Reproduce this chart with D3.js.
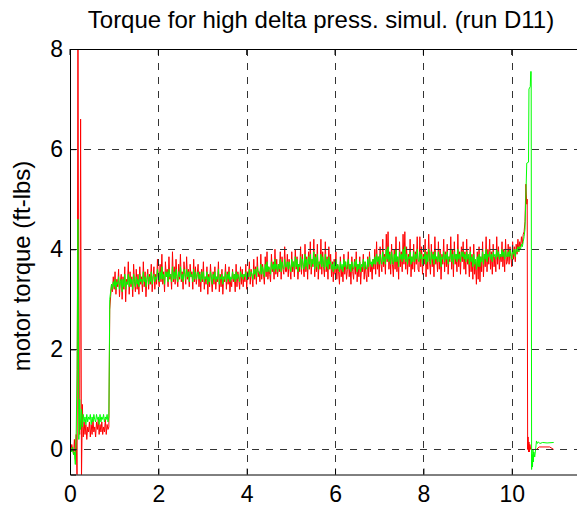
<!DOCTYPE html>
<html>
<head>
<meta charset="utf-8">
<script src="https://cdn.jsdelivr.net/npm/d3@7"></script>
<style>
  body { margin: 0; background: #fff; }
  svg { display: block; font-family: "Liberation Sans", Arial, sans-serif; }
</style>
</head>
<body>
<div id="chart"></div>
<script>
// sampling grids (seconds)
const startStep = 0.02;
const midStart = 0.9, midStep = 0.02;

// start-up, t = 0 .. 0.88
const startRed = [0.05, -0.05, 0.10, 0.00, -0.10, 0.20, -0.20, 0.30, -0.60, 8.60,
  0.80, 0.30, 6.60, -0.60, 0.90, 0.25, 0.55, 0.30, 0.50, 0.20,
  0.45, 0.35, 0.55, 0.25, 0.50, 0.30, 0.60, 0.35, 0.45, 0.25,
  0.55, 0.40, 0.60, 0.30, 0.50, 0.35, 0.55, 0.30, 0.45, 0.35,
  0.60, 0.30, 0.50, 0.40, 0.45];
const startGreen = [0.00, 0.03, -0.05, 0.05, -0.10, -0.05, -0.30, 0.30, 1.60, 4.60,
  0.20, 1.00, 0.40, 0.80, 0.45, 0.70, 0.55, 0.65, 0.50, 0.70,
  0.55, 0.65, 0.60, 0.70, 0.50, 0.65, 0.55, 0.70, 0.60, 0.55,
  0.70, 0.60, 0.65, 0.50, 0.70, 0.55, 0.65, 0.60, 0.70, 0.55,
  0.65, 0.60, 0.70, 0.55, 0.65];

// running part, t = 0.90 .. 10.28 (one row per second)
const midRed = [
  2.80, 3.05, 3.30, 3.15, 3.45, 3.20, 3.55, 3.10, 3.40, 3.25, 3.60, 3.05, 3.35, 3.50, 3.00, 3.45, 3.20, 3.65, 2.95, 3.40, 3.30, 3.75, 3.10, 3.55, 3.25, 3.45, 3.05, 3.70, 3.35, 3.15, 3.60, 3.20, 3.50, 3.10, 3.65, 3.30, 3.45, 3.15, 3.75, 3.25, 3.55, 3.05, 3.40, 3.60, 3.20, 3.50, 3.30, 3.70, 3.15, 3.45,
  3.65, 3.20, 3.50, 3.30, 3.80, 3.40, 3.25, 3.70, 3.35, 3.90, 3.30, 3.55, 3.15, 3.75, 3.45, 3.60, 3.25, 3.85, 3.40, 3.50, 3.20, 3.95, 3.35, 3.65, 3.30, 3.80, 3.45, 3.25, 3.70, 3.40, 3.90, 3.35, 3.55, 3.20, 3.75, 3.50, 3.30, 3.85, 3.40, 3.60, 3.25, 3.70, 3.45, 3.55, 3.20, 3.80, 3.35, 3.65, 3.30, 3.50,
  3.70, 3.25, 3.55, 3.15, 3.60, 3.35, 3.75, 3.20, 3.45, 3.30, 3.65, 3.10, 3.50, 3.25, 3.70, 3.40, 3.15, 3.55, 3.30, 3.65, 3.20, 3.45, 3.35, 3.75, 3.15, 3.50, 3.25, 3.60, 3.10, 3.45, 3.35, 3.70, 3.20, 3.55, 3.30, 3.65, 3.15, 3.40, 3.25, 3.60, 3.35, 3.50, 3.15, 3.70, 3.25, 3.55, 3.40, 3.20, 3.65, 3.30,
  3.60, 3.25, 3.50, 3.35, 3.70, 3.20, 3.55, 3.40, 3.75, 3.30, 3.60, 3.45, 3.25, 3.80, 3.40, 3.65, 3.30, 3.85, 3.45, 3.55, 3.35, 3.90, 3.40, 3.70, 3.50, 3.30, 3.85, 3.45, 3.95, 3.40, 3.65, 3.50, 3.35, 3.90, 3.55, 3.75, 3.40, 4.00, 3.50, 3.80, 3.45, 3.70, 3.55, 3.95, 3.40, 3.85, 3.60, 3.50, 4.05, 3.55,
  3.55, 3.90, 3.45, 3.80, 3.60, 3.40, 3.95, 3.55, 3.75, 3.45, 4.00, 3.60, 3.85, 3.40, 3.70, 3.55, 4.05, 3.50, 3.90, 3.65, 3.45, 4.10, 3.55, 3.85, 3.40, 3.95, 3.60, 4.15, 3.50, 3.80, 3.65, 4.20, 3.45, 3.90, 3.55, 4.10, 3.40, 3.75, 3.60, 4.20, 3.50, 3.95, 3.65, 3.45, 4.15, 3.55, 3.85, 3.40, 4.05, 3.60,
  3.90, 3.45, 3.75, 3.35, 3.80, 3.50, 3.95, 3.40, 3.70, 3.55, 3.30, 3.85, 3.45, 3.65, 3.35, 3.90, 3.50, 3.75, 3.40, 3.60, 3.95, 3.45, 3.70, 3.30, 3.85, 3.55, 3.40, 3.80, 3.50, 3.95, 3.35, 3.70, 3.45, 3.85, 3.30, 3.65, 3.55, 3.90, 3.40, 3.75, 3.50, 3.35, 3.85, 3.45, 3.95, 3.55, 3.70, 3.40, 3.80, 3.60,
  4.00, 3.50, 4.15, 3.60, 3.85, 3.45, 4.05, 3.70, 3.55, 4.20, 3.65, 3.90, 3.50, 4.30, 3.75, 4.35, 3.60, 3.95, 3.50, 4.10, 3.70, 3.45, 4.00, 3.60, 4.25, 3.55, 3.85, 3.40, 4.15, 3.65, 3.95, 3.55, 4.30, 3.70, 4.35, 3.60, 4.05, 3.50, 3.90, 3.65, 4.20, 3.45, 3.85, 3.60, 4.10, 3.55, 3.95, 3.70, 4.25, 3.60,
  3.55, 4.25, 3.65, 4.05, 3.50, 3.90, 3.70, 4.20, 3.45, 3.95, 3.60, 4.30, 3.75, 3.50, 4.10, 3.65, 3.95, 3.45, 4.25, 3.70, 3.85, 3.55, 4.15, 3.60, 4.00, 3.40, 3.90, 3.70, 4.20, 3.55, 3.95, 3.65, 4.10, 3.50, 3.85, 3.75, 4.25, 3.60, 4.00, 3.45, 4.15, 3.70, 3.90, 3.55, 4.30, 3.65, 3.95, 3.50, 4.05, 3.75,
  4.15, 3.60, 3.95, 3.50, 4.20, 3.70, 3.85, 3.45, 4.05, 3.55, 3.90, 3.40, 4.10, 3.50, 3.75, 3.30, 3.95, 3.40, 4.05, 3.35, 3.85, 3.55, 4.15, 3.45, 3.90, 3.65, 4.25, 3.55, 4.00, 3.70, 4.20, 3.60, 3.95, 3.50, 4.10, 3.65, 3.85, 3.55, 4.25, 3.70, 4.05, 3.60, 3.90, 3.75, 4.15, 3.65, 4.00, 3.55, 4.20, 3.70,
  3.75, 4.10, 3.70, 4.05, 3.85, 3.65, 4.15, 3.80, 4.05, 3.75, 4.10, 3.90, 4.20, 3.95, 4.15, 4.05, 4.25, 4.10, 4.30, 4.35];
const midGreen = [
  3.00, 3.15, 3.30, 3.20, 3.35, 3.25, 3.40, 3.20, 3.35, 3.30, 3.45, 3.20, 3.35, 3.40, 3.15, 3.40, 3.25, 3.50, 3.20, 3.35, 3.30, 3.50, 3.25, 3.45, 3.30, 3.40, 3.20, 3.50, 3.35, 3.25, 3.45, 3.30, 3.40, 3.25, 3.50, 3.35, 3.40, 3.30, 3.55, 3.35, 3.45, 3.25, 3.40, 3.50, 3.30, 3.45, 3.35, 3.55, 3.30, 3.45,
  3.50, 3.35, 3.45, 3.40, 3.60, 3.45, 3.35, 3.55, 3.40, 3.65, 3.40, 3.50, 3.30, 3.55, 3.45, 3.55, 3.35, 3.60, 3.45, 3.50, 3.35, 3.65, 3.40, 3.55, 3.40, 3.60, 3.45, 3.35, 3.55, 3.45, 3.65, 3.40, 3.50, 3.35, 3.60, 3.50, 3.40, 3.60, 3.45, 3.55, 3.35, 3.55, 3.45, 3.50, 3.35, 3.60, 3.40, 3.55, 3.40, 3.50,
  3.55, 3.40, 3.50, 3.35, 3.55, 3.40, 3.55, 3.35, 3.45, 3.40, 3.55, 3.30, 3.45, 3.35, 3.55, 3.45, 3.30, 3.50, 3.40, 3.55, 3.35, 3.45, 3.40, 3.60, 3.30, 3.45, 3.40, 3.50, 3.30, 3.45, 3.40, 3.55, 3.35, 3.50, 3.40, 3.55, 3.35, 3.45, 3.40, 3.55, 3.40, 3.50, 3.35, 3.55, 3.40, 3.50, 3.45, 3.35, 3.55, 3.45,
  3.50, 3.40, 3.50, 3.45, 3.55, 3.40, 3.50, 3.45, 3.60, 3.45, 3.55, 3.50, 3.40, 3.60, 3.50, 3.60, 3.45, 3.65, 3.55, 3.55, 3.50, 3.70, 3.50, 3.65, 3.55, 3.45, 3.70, 3.55, 3.75, 3.55, 3.65, 3.60, 3.50, 3.75, 3.60, 3.70, 3.55, 3.80, 3.60, 3.70, 3.55, 3.70, 3.60, 3.80, 3.55, 3.75, 3.65, 3.60, 3.80, 3.65,
  3.65, 3.75, 3.60, 3.75, 3.65, 3.55, 3.80, 3.65, 3.75, 3.60, 3.85, 3.65, 3.80, 3.55, 3.70, 3.65, 3.85, 3.60, 3.80, 3.70, 3.60, 3.90, 3.65, 3.80, 3.60, 3.85, 3.70, 3.90, 3.65, 3.80, 3.70, 3.95, 3.60, 3.85, 3.65, 3.90, 3.60, 3.75, 3.70, 3.90, 3.65, 3.85, 3.70, 3.60, 3.90, 3.65, 3.80, 3.60, 3.85, 3.70,
  3.75, 3.60, 3.70, 3.55, 3.75, 3.60, 3.80, 3.60, 3.70, 3.65, 3.55, 3.75, 3.60, 3.70, 3.55, 3.80, 3.65, 3.75, 3.60, 3.70, 3.80, 3.60, 3.70, 3.55, 3.75, 3.65, 3.60, 3.75, 3.65, 3.80, 3.55, 3.70, 3.60, 3.75, 3.55, 3.70, 3.65, 3.80, 3.60, 3.75, 3.65, 3.60, 3.80, 3.65, 3.85, 3.70, 3.75, 3.65, 3.80, 3.70,
  3.85, 3.70, 3.90, 3.75, 3.85, 3.70, 3.90, 3.80, 3.70, 3.95, 3.75, 3.85, 3.70, 4.00, 3.80, 4.05, 3.75, 3.90, 3.70, 3.95, 3.80, 3.70, 3.90, 3.75, 4.00, 3.75, 3.85, 3.65, 3.95, 3.80, 3.90, 3.75, 4.00, 3.80, 4.05, 3.75, 3.90, 3.70, 3.85, 3.80, 3.95, 3.70, 3.85, 3.75, 3.95, 3.75, 3.90, 3.80, 4.00, 3.80,
  3.75, 3.95, 3.80, 3.90, 3.70, 3.85, 3.80, 3.95, 3.70, 3.90, 3.75, 4.00, 3.85, 3.70, 3.95, 3.80, 3.90, 3.70, 3.95, 3.80, 3.85, 3.75, 3.95, 3.75, 3.90, 3.65, 3.85, 3.80, 3.95, 3.75, 3.90, 3.80, 3.95, 3.70, 3.85, 3.80, 4.00, 3.75, 3.90, 3.70, 3.95, 3.80, 3.90, 3.75, 4.00, 3.80, 3.90, 3.75, 3.95, 3.85,
  3.95, 3.80, 3.90, 3.75, 3.95, 3.80, 3.90, 3.70, 3.95, 3.75, 3.85, 3.65, 3.90, 3.70, 3.80, 3.60, 3.85, 3.65, 3.90, 3.65, 3.85, 3.75, 3.95, 3.70, 3.90, 3.80, 4.00, 3.75, 3.90, 3.85, 3.95, 3.80, 3.90, 3.75, 3.95, 3.85, 3.90, 3.80, 4.00, 3.85, 3.95, 3.80, 3.90, 3.85, 4.00, 3.85, 3.95, 3.80, 4.00, 3.85,
  3.85, 3.95, 3.85, 4.00, 3.90, 3.80, 4.00, 3.90, 4.00, 3.85, 4.00, 3.95, 4.05, 3.95, 4.05, 4.00, 4.10, 4.05, 4.15, 4.25];

// shut-down (time, value)
const endRed = [[10.30, 4.55], [10.32, 5.30], [10.34, 4.90], [10.35, 5.00], [10.36, 0.00],
  [10.37, 0.25], [10.38, -0.05], [10.39, 0.15], [10.40, -0.05], [10.41, 0.10],
  [10.43, 0.00], [10.56, 0.00], [10.62, 0.05], [10.86, 0.05], [10.95, 0.00]];
const endGreen = [[10.30, 4.40], [10.34, 5.72], [10.38, 5.74], [10.39, 7.20], [10.42, 7.25],
  [10.43, 7.55], [10.44, 7.55], [10.45, -0.40], [10.46, -0.10], [10.47, -0.35],
  [10.48, 0.00], [10.49, -0.25], [10.50, -0.05], [10.52, -0.15], [10.54, 0.00],
  [10.56, 0.17], [10.58, 0.12], [10.60, 0.15], [10.64, 0.12], [10.70, 0.14],
  [10.80, 0.13], [10.95, 0.14]];

const xTicks = [0, 2, 4, 6, 8, 10];
const yTicks = [0, 2, 4, 6, 8];

function series(start, mid, end) {
  const pts = start.map((v, i) => [i * startStep, v]);
  mid.forEach((v, i) => pts.push([midStart + i * midStep, v]));
  return pts.concat(end);
}
const red = series(startRed, midRed, endRed);
const green = series(startGreen, midGreen, endGreen);

const W = 577, H = 510;
const mLeft = 70, mTop = 49, mRight = 578, mBottom = 474.5;

const svg = d3.select("#chart").append("svg")
  .attr("width", W).attr("height", H);

const x = d3.scaleLinear().domain([0, 11.5]).range([mLeft, mRight]);
const y = d3.scaleLinear().domain([-0.5, 8]).range([mBottom, mTop]);

svg.append("clipPath").attr("id", "clip")
  .append("rect").attr("x", mLeft).attr("y", mTop)
  .attr("width", mRight - mLeft).attr("height", mBottom - mTop);

const line = d3.line().x(d => x(d[0])).y(d => y(d[1]));

const plot = svg.append("g").attr("clip-path", "url(#clip)");
plot.append("path").datum(red)
  .attr("d", line).attr("fill", "none").attr("stroke", "#ff0000").attr("stroke-width", 1);
plot.append("path").datum(green)
  .attr("d", line).attr("fill", "none").attr("stroke", "#00ff00").attr("stroke-width", 1);

// dashed grid drawn over the data
const grid = svg.append("g").attr("stroke", "#333").attr("stroke-width", 1)
  .attr("stroke-dasharray", "7,7");
grid.selectAll(".gx").data(xTicks.filter(d => d > 0)).enter().append("line")
  .attr("x1", d => Math.round(x(d)) + 0.5).attr("x2", d => Math.round(x(d)) + 0.5)
  .attr("y1", mTop).attr("y2", mBottom);
grid.selectAll(".gy").data(yTicks.filter(d => d < 8)).enter().append("line")
  .attr("y1", d => Math.round(y(d)) + 0.5).attr("y2", d => Math.round(y(d)) + 0.5)
  .attr("x1", mLeft).attr("x2", mRight);

// axes, ticks pointing inwards
const xAxis = d3.axisBottom(x).tickValues(xTicks).tickSize(-6).tickPadding(11);
const yAxis = d3.axisLeft(y).tickValues(yTicks).tickSize(-6).tickPadding(7);

const gx = svg.append("g").attr("transform", `translate(0,${mBottom})`).call(xAxis);
const gy = svg.append("g").attr("transform", `translate(${mLeft},0)`).call(yAxis);
[gx, gy].forEach(g => {
  g.selectAll("text").attr("font-size", 23).attr("fill", "#000")
    .attr("font-family", "'Liberation Sans', Arial, sans-serif");
  g.selectAll("line").attr("stroke", "#000");
  g.select(".domain").attr("stroke", "#000");
});

// top border with inward ticks
svg.append("line").attr("x1", mLeft).attr("x2", mRight).attr("y1", mTop + 0.5).attr("y2", mTop + 0.5)
  .attr("stroke", "#000");
svg.append("g").selectAll("line").data(xTicks).enter().append("line")
  .attr("x1", d => x(d)).attr("x2", d => x(d)).attr("y1", mTop).attr("y2", mTop + 6)
  .attr("stroke", "#000");

svg.append("text")
  .attr("x", 321).attr("y", 28)
  .attr("text-anchor", "middle").attr("font-size", 24)
  .text("Torque for high delta press. simul. (run D11)");

svg.append("text")
  .attr("transform", "translate(30,266) rotate(-90)")
  .attr("text-anchor", "middle").attr("font-size", 24)
  .text("motor torque (ft-lbs)");
</script>
</body>
</html>
